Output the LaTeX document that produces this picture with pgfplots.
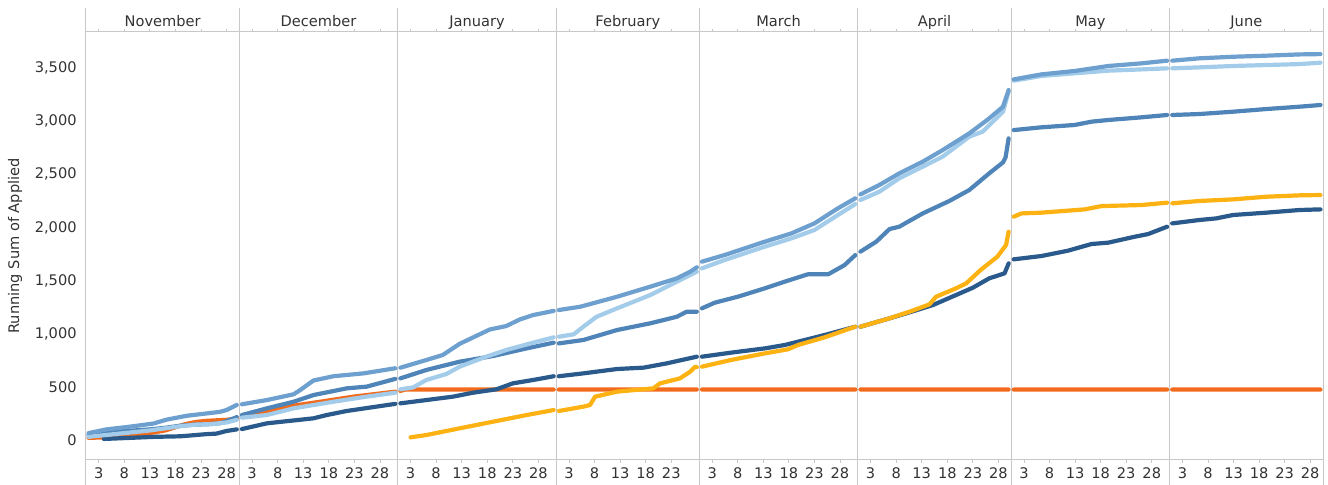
\documentclass[border=0pt]{standalone}
\usepackage{fontspec}
\setmainfont{DejaVu Sans}
\usepackage{pgfplots}
\pgfplotsset{compat=1.18}
\definecolor{cA}{HTML}{6EA0CF}
\definecolor{cB}{HTML}{A3CCEA}
\definecolor{cC}{HTML}{4F84B8}
\definecolor{cD}{HTML}{2A5A8C}
\definecolor{cE}{HTML}{F26A1B}
\definecolor{cF}{HTML}{FDB213}
\definecolor{gridc}{HTML}{C8C8C8}
\definecolor{txt}{HTML}{333333}
\begin{document}
\begin{tikzpicture}
\path[use as bounding box] (-43pt,-12.5pt) rectangle (621pt,230pt);
\begin{axis}[
  at={(0pt,0pt)}, anchor=south west, scale only axis,
  width=618.5pt, height=214pt,
  xmin=-0.5, xmax=241.5, ymin=-188, ymax=3839,
  clip=false, axis line style={draw=none},
  unbounded coords=jump, no markers,
  font=\fontsize{7.3}{8.5}\selectfont, text=txt,
  /pgf/number format/assume math mode=true,
  /pgf/number format/1000 sep={,},
  ytick={0,500,1000,1500,2000,2500,3000,3500},
  ytick style={draw=none},
  yticklabel style={anchor=east, inner sep=0pt, xshift=-3pt, text=txt},
  xtick={2,7,12,17,22,27, 32,37,42,47,52,57, 63,68,73,78,83,88, 94,99,104,109,114, 122,127,132,137,142,147, 153,158,163,168,173,178, 183,188,193,198,203,208, 214,219,224,229,234,239},
  xticklabels={3,8,13,18,23,28, 3,8,13,18,23,28, 3,8,13,18,23,28, 3,8,13,18,23, 3,8,13,18,23,28, 3,8,13,18,23,28, 3,8,13,18,23,28, 3,8,13,18,23,28},
  tick align=outside, major tick length=1.5pt,
  xtick style={draw=gridc, line width=0.4pt},
  xticklabel style={anchor=north, inner sep=0pt, yshift=-2pt, text=txt},
  every axis y label/.style={at={(axis description cs:0,0.5)}, rotate=90, anchor=center, yshift=35.5pt},
  ylabel={Running Sum of Applied},
  every axis plot/.append style={line width=2.1pt, line join=round, line cap=round},
]
% frame and dividers
\foreach \xv in {-0.5,29.5,60.5,91.5,119.5,150.5,180.5,211.5,241.5}{
  \edef\tmp{\noexpand\draw[gridc, line width=0.5pt] (axis cs:\xv,-423) -- (axis cs:\xv,4065);}\tmp
}
\draw[gridc, line width=0.5pt] (axis cs:-0.5,3839) -- (axis cs:241.5,3839);
\draw[gridc, line width=0.5pt] (axis cs:-0.5,-188) -- (axis cs:241.5,-188);
% month headers
\tikzset{mh/.style={text=txt, anchor=base, inner sep=0pt}}
\node[mh] at (axis cs:14.5,3895) {November};
\node[mh] at (axis cs:45,3895) {December};
\node[mh] at (axis cs:76,3895) {January};
\node[mh] at (axis cs:105.5,3895) {February};
\node[mh] at (axis cs:135,3895) {March};
\node[mh] at (axis cs:165.5,3895) {April};
\node[mh] at (axis cs:196,3895) {May};
\node[mh] at (axis cs:226.5,3895) {June};

% E orange
\addplot[cE] coordinates {
(0,20) (3,25) (6,35) (9,45) (12,65) (15,90) (17,120) (19,150) (21,170) (23,180) (25,185) (27,190) (29,200)
(29.5,nan)
(30,220) (38.8,314) (45.3,360) (51.8,408) (60,455)
(60.5,nan)
(61,462) (62,475) (91,475)
(91.5,nan)
(92,475) (119,475)
(119.5,nan)
(120,475) (150,475)
(150.5,nan)
(151,475) (180,475)
(180.5,nan)
(181,475) (211,475)
(211.5,nan)
(212,475) (241,475)
};
% D dark blue
\addplot[cD] coordinates {
(3,10) (8,20) (13,30) (18,35) (23,55) (25,60) (27,85) (29,100)
(29.5,nan)
(30,103) (34.9,157) (44,204) (46.6,235) (50.5,273) (60,340)
(60.5,nan)
(61,345) (66.1,376) (71.3,408) (75.2,445) (79.8,477) (83,533) (87,565) (91,600)
(91.5,nan)
(92,600) (96.8,627) (103.4,668) (108.6,681) (113.1,721) (119,784)
(119.5,nan)
(120,784) (125.7,822) (132.3,862) (136.2,894) (138.8,925) (144,988) (150,1066)
(150.5,nan)
(151,1066) (156.7,1145) (160.6,1201) (165.2,1270) (169.7,1364) (173,1433) (176.2,1521) (179.2,1568) (180,1662)
(180.5,nan)
(181,1700) (186.4,1731) (191.6,1781) (196.2,1844) (199.5,1857) (204.7,1913) (207.3,1938) (211,2007)
(211.5,nan)
(212,2038) (217.3,2070) (220.6,2085) (223.9,2117) (230.4,2139) (236.9,2164) (241,2170)
};
% F yellow
\addplot[cF] coordinates {
(63,25) (66.1,47) (72.6,110) (79.1,172) (85.7,235) (91,282)
(91.5,nan)
(92,273) (96.8,314) (98.1,329) (99.1,408) (103.4,455) (110.5,486) (111.8,533) (115.7,580) (117.7,643) (118.7,690) (119,685)
(119.5,nan)
(120,690) (125.7,753) (132.3,815) (136.8,853) (138.8,894) (144,966) (150,1066)
(150.5,nan)
(151,1066) (156.7,1145) (160.6,1207) (164.5,1276) (165.8,1348) (169.7,1427) (171.7,1474) (174.5,1599) (177.8,1725) (179.5,1835) (180,1960)
(180.5,nan)
(181,2101) (182.5,2132) (186.4,2139) (194.9,2170) (198.2,2201) (206,2211) (211,2233)
(211.5,nan)
(212,2227) (217.3,2249) (223.9,2264) (230.4,2289) (236.9,2302) (241,2305)
};
% C medium blue
\addplot[cC] coordinates {
(0,45) (3,70) (6,80) (9,90) (12,100) (15,115) (18,135) (21,145) (24,150) (26,160) (29,215)
(29.5,nan)
(30,235) (34.9,298) (40.1,360) (44,423) (50.5,486) (54.4,502) (60,575)
(60.5,nan)
(61,580) (66.1,659) (72.6,737) (79.1,790) (85.7,862) (91,916)
(91.5,nan)
(92,909) (96.8,941) (103.4,1035) (109.9,1098) (115.1,1160) (117,1207) (119,1207)
(119.5,nan)
(120,1239) (122.5,1292) (127,1348) (132.3,1427) (136.2,1490) (140.7,1559) (144.7,1559) (147.9,1646) (150,1740)
(150.5,nan)
(151,1772) (154.1,1866) (156.7,1985) (158.6,2007) (163.2,2132) (168.4,2249) (172.3,2352) (176.2,2509) (178.9,2612) (179.4,2660) (180,2838)
(180.5,nan)
(181,2916) (186.4,2942) (192.9,2964) (196.2,2995) (199.5,3011) (206,3036) (211,3058)
(211.5,nan)
(212,3058) (217.3,3067) (223.9,3089) (230.4,3114) (236.9,3136) (241,3152)
};
% B light blue
\addplot[cB] coordinates {
(0,30) (3,45) (6,60) (9,75) (12,90) (15,110) (18,130) (21,145) (24,150) (27,165) (29,190)
(29.5,nan)
(30,210) (34.9,235) (40.1,298) (47.9,360) (54.4,408) (60,445)
(60.5,nan)
(61,477) (63.5,495) (66.1,565) (70,621) (72.6,690) (77.8,784) (81.7,847) (87,916) (91,966)
(91.5,nan)
(92,972) (94.9,994) (96.8,1066) (99.4,1160) (103.4,1239) (109.9,1364) (115.1,1490) (119,1584)
(119.5,nan)
(120,1615) (124.4,1693) (132.3,1819) (137.5,1897) (142,1976) (146.6,2117) (150,2220)
(150.5,nan)
(151,2258) (154.7,2336) (158.6,2462) (163.2,2572) (167.1,2666) (172.3,2854) (174.9,2901) (178.9,3089) (180,3277)
(180.5,nan)
(181,3381) (186.4,3425) (192.9,3450) (199.5,3475) (206,3487) (211,3497)
(211.5,nan)
(212,3497) (217.3,3506) (223.9,3519) (230.4,3528) (236.9,3537) (241,3550)
};
% A mid-light blue
\addplot[cA] coordinates {
(0,65) (3.5,100) (8,125) (12.7,155) (15.3,192) (19.2,228) (23.1,250) (25.7,265) (27,282) (29,330)
(29.5,nan)
(30,336) (34.9,376) (40.1,430) (41.4,470) (44,560) (47.9,600) (53.8,627) (60,675)
(60.5,nan)
(61,680) (66.1,753) (69.3,800) (72.6,905) (78.5,1040) (81.7,1072) (84.4,1135) (87,1176) (91,1215)
(91.5,nan)
(92,1223) (96.2,1254) (103.4,1348) (109.9,1443) (115.1,1521) (117.7,1584) (119,1625)
(119.5,nan)
(120,1678) (124.4,1740) (132.3,1866) (137.5,1944) (142,2038) (146.6,2180) (150,2274)
(150.5,nan)
(151,2311) (154.7,2399) (158.6,2509) (163.2,2619) (167.1,2728) (172.3,2885) (176.2,3026) (178.9,3136) (180,3293)
(180.5,nan)
(181,3393) (186.4,3440) (192.9,3472) (199.5,3519) (206,3544) (211,3569)
(211.5,nan)
(212,3569) (217.3,3591) (223.9,3606) (230.4,3616) (236.9,3628) (241,3631)
};
\end{axis}
\end{tikzpicture}
\end{document}
